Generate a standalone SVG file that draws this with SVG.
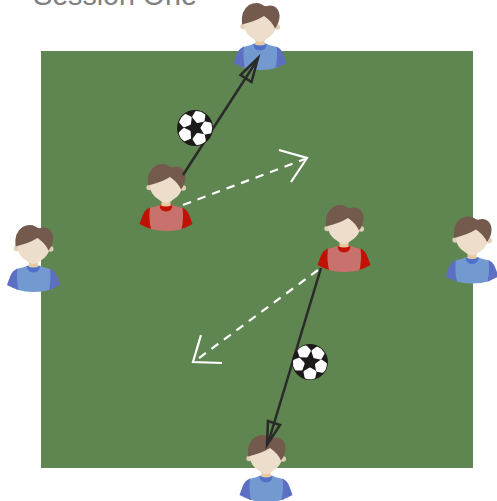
<svg xmlns="http://www.w3.org/2000/svg" xmlns:xlink="http://www.w3.org/1999/xlink" width="497" height="501" viewBox="0 0 497 501">
<style>
.hair{fill:#745a4c}.face{fill:#ecdecb}.ear{fill:#e2cfb6}.neck{fill:#e8c99f}
.b-body{fill:#7399d1}.b-sleeve{fill:#5d6fc3}.b-collar{fill:#4f6fc9}
.r-body{fill:#c8716d}.r-sleeve{fill:#c01104}.r-collar{fill:#c41103}
.solid{fill:none;stroke:#2a2a2a;stroke-width:2.500;stroke-linejoin:miter}
.dash{fill:none;stroke:#fff;stroke-width:2.200;stroke-dasharray:8.500 7}
.head{fill:none;stroke:#fff;stroke-width:2.200}
.patch{fill:#fff;stroke:#fff;stroke-width:3;stroke-linejoin:round}
</style>
<defs>
<path id="torso" d="M-17,44.500Q-8,42.500 -6,41H6Q8,42.500 17,44.500L18,65Q0,70 -17,65Z"/>
<path id="sleeve-l" d="M-16,44Q-21,46 -23,51Q-25,56 -26.500,60.500Q-21,63.500 -15,65.500Q-17.500,55 -16,44Z"/>
<path id="sleeve-r" d="M16.500,44Q21,46 23,51Q25,56 26.500,60.500Q21,63.500 15.500,65.500Q18,55 16.500,44Z"/>
<path id="collar" d="M-6.500,41.500Q0,44.500 6.500,41.500Q6,48 0,48Q-6,48 -6.500,41.500Z"/>
<g id="head">
<path class="neck" d="M-4.500,34H4.500V42.500Q0,44.500 -4.500,42.500Z"/>
<circle class="ear" cx="-16.800" cy="24" r="2.800"/>
<circle class="ear" cx="17.200" cy="24.500" r="2.800"/>
<path class="face" d="M-15.800,12H16V24Q15,31 8,35.500Q3,39.500 0,39.500Q-3,39.500 -8,35.500Q-15,31 -15.800,24Z"/>
<path class="hair" d="M-18,22Q-19.500,8 -11,2.500Q-4,-1 2,2Q4,3.500 6,3.800Q12,1.500 16,5Q20,9 19.500,15Q19,21 15,26Q12,19 4,13.500Q-5,19 -18,22Z"/>
</g>
<g id="player-blue">
<use href="#torso" xlink:href="#torso" class="b-body"/>
<use href="#sleeve-l" xlink:href="#sleeve-l" class="b-sleeve"/>
<use href="#sleeve-r" xlink:href="#sleeve-r" class="b-sleeve"/>
<use href="#head" xlink:href="#head"/>
<use href="#collar" xlink:href="#collar" class="b-collar"/>
</g>
<g id="player-red">
<use href="#torso" xlink:href="#torso" class="r-body"/>
<use href="#sleeve-l" xlink:href="#sleeve-l" class="r-sleeve"/>
<use href="#sleeve-r" xlink:href="#sleeve-r" class="r-sleeve"/>
<use href="#head" xlink:href="#head"/>
<use href="#collar" xlink:href="#collar" class="r-collar"/>
</g>
<path id="patch" class="patch" d="M7,0L10,-5L15,-4Q16.500,0 15,4L10,5Z"/>
<g id="ball">
<circle r="18" fill="#1d1a1a"/>
<use href="#patch" xlink:href="#patch"/>
<use href="#patch" xlink:href="#patch" transform="rotate(68)"/>
<use href="#patch" xlink:href="#patch" transform="rotate(146)"/>
<use href="#patch" xlink:href="#patch" transform="rotate(218)"/>
<use href="#patch" xlink:href="#patch" transform="rotate(290)"/>
</g>
</defs>
<rect id="pitch" x="41" y="51" width="432" height="417" fill="#5f8651"/>
<text id="title" x="115" y="5" font-family="'Liberation Sans',Arial,sans-serif" font-size="28.600" fill="#808080" text-anchor="middle">Session One</text>
<g id="player-top"><use href="#player-blue" xlink:href="#player-blue" x="260" y="2.500"/></g>
<g id="player-left"><use href="#player-blue" xlink:href="#player-blue" x="33.500" y="224.500"/></g>
<g id="player-right"><use href="#player-blue" xlink:href="#player-blue" x="472" y="216"/></g>
<g id="player-bottom"><use href="#player-blue" xlink:href="#player-blue" x="266" y="434.500"/></g>
<g id="player-red-1"><use href="#player-red" xlink:href="#player-red" x="166" y="163.500"/></g>
<g id="player-red-2"><use href="#player-red" xlink:href="#player-red" x="344" y="204.500"/></g>
<g id="connectors">
<path class="solid" d="M183,175L256,62"/>
<path class="solid" d="M258,58L240.500,75L251.500,82Z"/>
<path class="solid" d="M321,268L269,440"/>
<path class="solid" d="M267,445L268,421L280,425Z"/>
<path class="dash" d="M183,205L305,159"/>
<path class="head" d="M279,150L307,158L291,182"/>
<path class="dash" d="M318,270L195,361"/>
<path class="head" d="M201,335L193,362L222,363"/>
</g>
<g id="ball-1"><use href="#ball" xlink:href="#ball" transform="translate(195 128)"/></g>
<g id="ball-2"><use href="#ball" xlink:href="#ball" transform="translate(310 362) rotate(22)"/></g>
</svg>
